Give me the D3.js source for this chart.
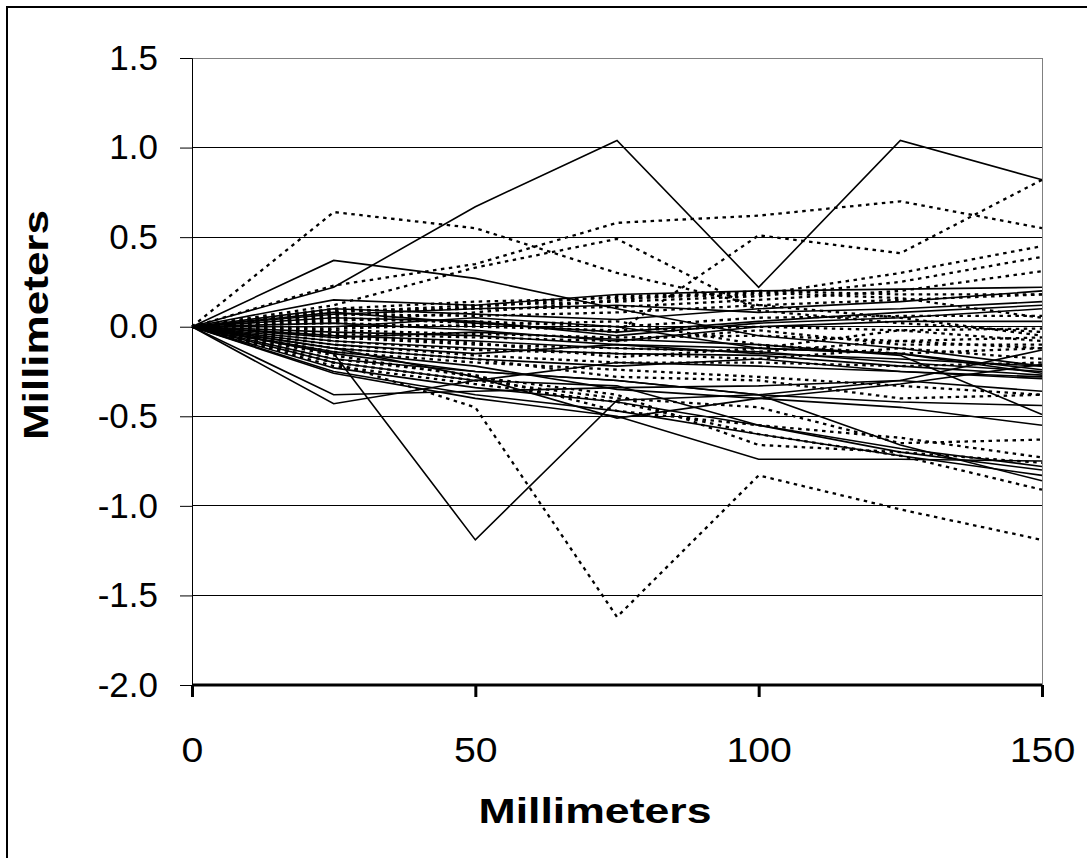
<!DOCTYPE html>
<html><head><meta charset="utf-8">
<script src="https://cdn.jsdelivr.net/npm/d3@7"></script>
<style>body{margin:0;background:#fff}svg{display:block}text{font-family:Arial,"Liberation Sans",sans-serif;fill:#000}</style>
</head><body><svg id="c" width="1087" height="858"></svg>
<script>
// x positions (mm)
const xValues = [0, 25, 50, 75, 100, 125, 150];
const xTicks = [0, 50, 100, 150];
const yTicks = [1.5, 1.0, 0.5, 0.0, -0.5, -1.0, -1.5, -2.0];
const xTitle = "Millimeters";
const yTitle = "Millimeters";

// solid series
const solid01 = [0, 0.22, 0.67, 1.04, 0.22, 1.04, 0.82];
const solid02 = [0, 0.37, 0.27, 0.10, -0.05, -0.12, -0.22];
const solid03 = [0, -0.15, -1.19, -0.41, -0.38, -0.30, -0.13];
const solid04 = [0, -0.43, -0.30, -0.20, -0.22, -0.25, -0.28];
const solid05 = [0, -0.38, -0.36, -0.34, -0.33, -0.30, -0.36];
const solid06 = [0, 0.15, 0.12, 0.18, 0.20, 0.21, 0.22];
const solid07 = [0, 0.10, 0.07, 0.04, 0.10, 0.14, 0.20];
const solid08 = [0, 0.08, 0.02, -0.03, 0.03, 0.08, 0.12];
const solid09 = [0, 0.05, 0.03, -0.05, 0.02, 0.05, 0.10];
const solid10 = [0, 0.02, -0.02, -0.08, 0.00, 0.03, 0.03];
const solid11 = [0, -0.03, -0.05, -0.10, -0.15, -0.18, -0.22];
const solid12 = [0, -0.05, -0.08, -0.12, -0.14, -0.20, -0.25];
const solid13 = [0, -0.08, -0.12, -0.15, -0.16, -0.22, -0.27];
const solid14 = [0, -0.12, -0.18, -0.22, -0.18, -0.25, -0.29];
const solid15 = [0, -0.10, -0.15, -0.10, -0.12, -0.15, -0.24];
const solid16 = [0, -0.18, -0.25, -0.30, -0.38, -0.42, -0.44];
const solid17 = [0, -0.20, -0.30, -0.33, -0.55, -0.68, -0.78];
const solid18 = [0, -0.23, -0.34, -0.42, -0.55, -0.70, -0.80];
const solid19 = [0, -0.25, -0.38, -0.47, -0.60, -0.72, -0.83];
const solid20 = [0, -0.26, -0.40, -0.50, -0.74, -0.74, -0.75];
const solid21 = [0, -0.15, -0.25, -0.30, -0.38, -0.66, -0.86];
const solid22 = [0, -0.14, -0.22, -0.35, -0.40, -0.45, -0.55];
const solid23 = [0, -0.12, -0.28, -0.51, -0.40, -0.32, -0.21];
const solid24 = [0, -0.06, -0.03, -0.07, -0.10, -0.16, -0.49];
const solid25 = [0, 0.00, 0.05, 0.00, -0.12, -0.15, -0.26];
const solid26 = [0, 0.07, 0.10, 0.12, 0.08, 0.10, 0.14];

// dotted series
const dotted01 = [0, 0.64, 0.55, 0.30, 0.12, 0.05, -0.05];
const dotted02 = [0, 0.23, 0.35, 0.58, 0.62, 0.70, 0.55];
const dotted03 = [0, 0.12, 0.33, 0.49, 0.09, 0.02, -0.03];
const dotted04 = [0, 0.05, 0.02, -0.03, 0.51, 0.41, 0.82];
const dotted05 = [0, -0.20, -0.45, -1.62, -0.83, -1.02, -1.19];
const dotted06 = [0, 0.10, 0.14, 0.16, 0.18, 0.30, 0.45];
const dotted07 = [0, 0.08, 0.12, 0.14, 0.17, 0.25, 0.39];
const dotted08 = [0, 0.09, 0.10, 0.11, 0.15, 0.20, 0.31];
const dotted09 = [0, 0.07, 0.06, 0.08, 0.12, 0.15, 0.18];
const dotted10 = [0, 0.04, 0.03, 0.00, 0.05, 0.06, 0.06];
const dotted11 = [0, 0.02, 0.00, -0.02, 0.00, -0.02, -0.01];
const dotted12 = [0, -0.02, -0.04, -0.06, -0.05, -0.08, -0.06];
const dotted13 = [0, -0.04, -0.06, -0.08, -0.02, -0.10, -0.10];
const dotted14 = [0, -0.06, -0.10, -0.12, -0.14, -0.08, -0.12];
const dotted15 = [0, -0.08, -0.13, -0.15, -0.18, -0.12, -0.18];
const dotted16 = [0, -0.10, -0.16, -0.20, -0.20, -0.22, -0.20];
const dotted17 = [0, -0.14, -0.20, -0.24, -0.28, -0.33, -0.38];
const dotted18 = [0, -0.18, -0.27, -0.47, -0.55, -0.62, -0.73];
const dotted19 = [0, -0.16, -0.28, -0.38, -0.66, -0.70, -0.76];
const dotted20 = [0, -0.22, -0.32, -0.42, -0.60, -0.72, -0.91];
const dotted21 = [0, -0.20, -0.30, -0.40, -0.45, -0.65, -0.63];
const dotted22 = [0, -0.12, -0.18, -0.28, -0.30, -0.40, -0.38];
const dotted23 = [0, 0.03, 0.08, 0.15, 0.20, 0.18, 0.18];
const dotted24 = [0, 0.06, 0.11, 0.17, 0.19, 0.16, 0.05];
const dotted25 = [0, -0.01, 0.01, 0.03, -0.10, -0.15, -0.12];
const dotted26 = [0, -0.05, -0.09, -0.17, -0.12, -0.02, -0.08];

const solidLines = [solid01, solid02, solid03, solid04, solid05, solid06, solid07, solid08, solid09, solid10, solid11, solid12, solid13, solid14, solid15, solid16, solid17, solid18, solid19, solid20, solid21, solid22, solid23, solid24, solid25, solid26];
const dottedLines = [dotted01, dotted02, dotted03, dotted04, dotted05, dotted06, dotted07, dotted08, dotted09, dotted10, dotted11, dotted12, dotted13, dotted14, dotted15, dotted16, dotted17, dotted18, dotted19, dotted20, dotted21, dotted22, dotted23, dotted24, dotted25, dotted26];

const svg = d3.select("#c");
const L = 192, R = 1042, T = 58, B = 685;
const x = d3.scaleLinear().domain([0, 150]).range([L, R]);
const y = d3.scaleLinear().domain([-2, 1.5]).range([B, T]);

// outer frame
svg.append("rect").attr("x", 7).attr("y", 7).attr("width", 1100).attr("height", 880)
  .attr("fill", "none").attr("stroke", "#000").attr("stroke-width", 2);

// gridlines
const gridG = svg.append("g");
gridG.selectAll("line").data(yTicks.filter(d => d > -2)).join("line")
  .attr("x1", L).attr("x2", R).attr("y1", d => y(d)).attr("y2", d => y(d))
  .attr("stroke", d => d === 1.5 ? "#808080" : "#000").attr("stroke-width", 1)
  .attr("shape-rendering", "crispEdges");
// right border
svg.append("line").attr("x1", R).attr("x2", R).attr("y1", T).attr("y2", B)
  .attr("stroke", "#808080").attr("stroke-width", 1).attr("shape-rendering", "crispEdges");

// lines
const line = d3.line().x((d, i) => x(xValues[i])).y(d => y(d));
const linesG = svg.append("g");
linesG.selectAll("path.dot").data(dottedLines).join("path").attr("class", "dot")
  .attr("d", line).attr("fill", "none").attr("stroke", "#000").attr("stroke-width", 2.3)
  .attr("stroke-dasharray", "3.5,4.5");
linesG.selectAll("path.sol").data(solidLines).join("path").attr("class", "sol")
  .attr("d", line).attr("fill", "none").attr("stroke", "#000").attr("stroke-width", 1.6);

// y axis
const yAxis = d3.axisLeft(y).tickValues(yTicks).tickFormat(d3.format(".1f")).tickSize(12).tickPadding(22);
const yg = svg.append("g").attr("transform", `translate(${L},0)`).call(yAxis);
yg.select(".domain").attr("stroke", "#000").attr("stroke-width", 1);
yg.selectAll(".tick line").attr("stroke", "#000");
yg.selectAll(".tick text").attr("font-size", 35).attr("font-family", "Arial, 'Liberation Sans', sans-serif")
  .text(d => d3.format(".1f")(d).replace("−", "-"));

// x axis
const xAxis = d3.axisBottom(x).tickValues(xTicks).tickFormat(d3.format("d")).tickSize(12).tickPadding(40);
const xg = svg.append("g").attr("transform", `translate(0,${B})`).call(xAxis);
xg.select(".domain").attr("stroke", "#000").attr("stroke-width", 3).attr("d", `M${L},0H${R}`);
xg.selectAll(".tick line").attr("stroke", "#000").attr("stroke-width", 3);
xg.selectAll(".tick text").attr("font-size", 35).attr("font-family", "Arial, 'Liberation Sans', sans-serif")
  .each(function() { const w = this.getComputedTextLength(); d3.select(this).attr("textLength", w * 1.12).attr("lengthAdjust", "spacingAndGlyphs"); });

// titles
svg.append("text").attr("x", 595).attr("y", 823).attr("text-anchor", "middle")
  .attr("font-size", 35).attr("font-weight", "bold")
  .attr("textLength", 233).attr("lengthAdjust", "spacingAndGlyphs").text(xTitle);
svg.append("text").attr("transform", "translate(48,325) rotate(-90)").attr("text-anchor", "middle")
  .attr("font-size", 35).attr("font-weight", "bold")
  .attr("textLength", 230).attr("lengthAdjust", "spacingAndGlyphs").text(yTitle);
</script></body></html>
